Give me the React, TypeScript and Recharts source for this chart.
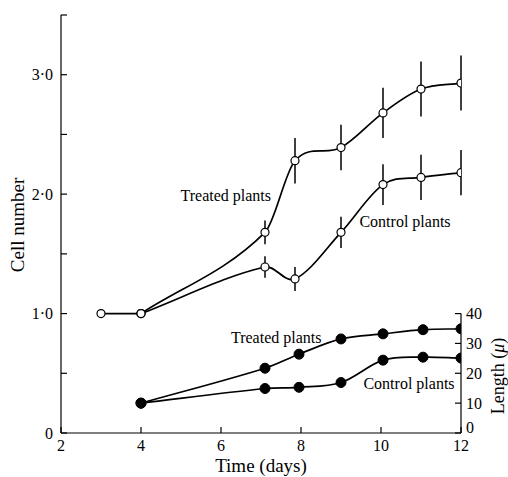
import { LineChart, Line, XAxis, YAxis, ErrorBar, ReferenceDot, ReferenceLine, Label } from "recharts";

// cell number before treatment (shared by both groups)
const startDays = [3, 4];
const startCells = [1.0, 1.0];

// cell number (open circles)
const cellDays = [4, 7.1, 7.85, 9, 10.05, 11, 12];
const treatedCells = [1.0, 1.68, 2.28, 2.39, 2.68, 2.88, 2.93];
const treatedCellErr = [0, 0.1, 0.19, 0.19, 0.21, 0.23, 0.23];
const controlCells = [1.0, 1.39, 1.29, 1.68, 2.08, 2.14, 2.18];
const controlCellErr = [0, 0.09, 0.1, 0.13, 0.17, 0.19, 0.19];

// length in microns (filled circles)
const lengthDays = [4, 7.1, 7.95, 9, 10.05, 11.05, 12];
const treatedLength = [10, 21.7, 26.4, 31.5, 33.2, 34.6, 34.9];
const controlLength = [10, 14.9, 15.3, 16.9, 24.4, 25.4, 25.1];

const xTicks = [2, 4, 6, 8, 10, 12];
const cellTicks = [0, 0.5, 1, 1.5, 2, 2.5, 3, 3.5];
const lengthTicks = [0, 10, 20, 30, 40];

const seriesLabels = [
  { text: "Treated plants", x: 6.12, y: 1.99 },
  { text: "Control plants", x: 10.6, y: 1.77 },
  { text: "Treated plants", x: 7.38, y: 0.8 },
  { text: "Control plants", x: 10.7, y: 0.415 },
];

const startData = startDays.map((d, i) => ({ day: d, v: startCells[i] }));
const treatedCellData = cellDays.map((d, i) => ({ day: d, v: treatedCells[i], err: treatedCellErr[i] }));
const controlCellData = cellDays.map((d, i) => ({ day: d, v: controlCells[i], err: controlCellErr[i] }));
const treatedLenData = lengthDays.map((d, i) => ({ day: d, len: treatedLength[i] }));
const controlLenData = lengthDays.map((d, i) => ({ day: d, len: controlLength[i] }));

const FONT = "'Liberation Serif', 'DejaVu Serif', serif";
const TICK = 6;
const LINE_W = 1.7;

// smooth curve through the points, tangents from neighbouring points (hand-drawn look)
function handCurve(context: any) {
  let xs: number[] = [];
  let ys: number[] = [];
  return {
    areaStart() {},
    areaEnd() {},
    lineStart() {
      xs = [];
      ys = [];
    },
    point(x: number, y: number) {
      xs.push(+x);
      ys.push(+y);
    },
    lineEnd() {
      const n = xs.length;
      if (!n) return;
      context.moveTo(xs[0], ys[0]);
      const m = xs.map((_, i) => {
        const a = Math.max(0, i - 1);
        const b = Math.min(n - 1, i + 1);
        return (ys[b] - ys[a]) / (xs[b] - xs[a]);
      });
      for (let i = 0; i < n - 1; i++) {
        const h = xs[i + 1] - xs[i];
        context.bezierCurveTo(
          xs[i] + h / 3, ys[i] + (m[i] * h) / 3,
          xs[i + 1] - h / 3, ys[i + 1] - (m[i + 1] * h) / 3,
          xs[i + 1], ys[i + 1]
        );
      }
    },
  };
}

const fmtCell = (v: number) => {
  if (v === 0) return "0";
  if (v % 1 !== 0) return "";
  return `${v}·0`;
};

// ticks drawn inward from the axis line
const XTick = ({ x, y, payload }: any) => {
  const m = 12;
  return (
    <g>
      <line x1={x} x2={x} y1={y - m} y2={y - m - TICK} stroke="#000" strokeWidth={1.2} />
      <text x={x} y={y} dy={6} textAnchor="middle" fontSize={16} fontFamily={FONT} fill="#000">
        {payload.value}
      </text>
    </g>
  );
};

const LeftTick = ({ x, y, payload }: any) => {
  const m = 8;
  return (
    <g>
      <line x1={x + m} x2={x + m + TICK} y1={y} y2={y} stroke="#000" strokeWidth={1.2} />
      <text x={x} y={y} dy="0.35em" textAnchor="end" fontSize={16} fontFamily={FONT} fill="#000">
        {fmtCell(payload.value)}
      </text>
    </g>
  );
};

const RightTick = ({ x, y, payload }: any) => {
  const m = 5;
  // the bottom label sits a little above the x axis line
  const lift = payload.value === 0 ? -6 : 0;
  return (
    <g>
      <line x1={x - m} x2={x - m - TICK} y1={y} y2={y} stroke="#000" strokeWidth={1.2} />
      <text x={x} y={y + lift} dy="0.35em" textAnchor="start" fontSize={16} fontFamily={FONT} fill="#000">
        {payload.value}
      </text>
    </g>
  );
};

const openDot = { r: 4, fill: "#fff", stroke: "#000", strokeWidth: 1.2 };
const fullDot = { r: 5, fill: "#000", stroke: "#000", strokeWidth: 1 };

export default function App() {
  return (
    <div style={{ fontFamily: FONT }}>
      <style>{"body{margin:0;overflow:hidden}"}</style>
      <LineChart width={508} height={477} margin={{ top: 15, right: 7, bottom: 4, left: 16 }}>
        <XAxis
          dataKey="day"
          type="number"
          domain={[2, 12]}
          ticks={xTicks}
          allowDataOverflow
          height={40}
          tickSize={0}
          tickMargin={12}
          tickLine={false}
          stroke="#000"
          strokeWidth={1.2}
          tick={<XTick />}
        >
          <Label
            content={({ viewBox }: any) => (
              <text x={viewBox.x + viewBox.width / 2} y={472} textAnchor="middle" fontSize={19} fontFamily={FONT} fill="#000">
                Time (days)
              </text>
            )}
          />
        </XAxis>
        <YAxis
          yAxisId="cell"
          domain={[0, 3.5]}
          ticks={cellTicks}
          allowDataOverflow
          width={45}
          tickSize={0}
          tickMargin={8}
          tickLine={false}
          stroke="#000"
          strokeWidth={1.2}
          tick={<LeftTick />}
        >
          <Label
            content={() => {
              const cx = 17;
              const cy = 225;
              return (
                <text x={cx} y={cy} transform={`rotate(-90, ${cx}, ${cy})`} textAnchor="middle" dominantBaseline="central" fontSize={19} fontFamily={FONT} fill="#000">
                  Cell number
                </text>
              );
            }}
          />
        </YAxis>
        <YAxis
          yAxisId="len"
          orientation="right"
          domain={[0, 140]}
          ticks={lengthTicks}
          allowDataOverflow
          width={40}
          axisLine={false}
          tickSize={0}
          tickMargin={5}
          tickLine={false}
          tick={<RightTick />}
        >
          <Label
            content={() => {
              const cx = 498;
              const cy = 376;
              return (
                <text x={cx} y={cy} transform={`rotate(-90, ${cx}, ${cy})`} textAnchor="middle" dominantBaseline="central" fontSize={18} fontFamily={FONT} fill="#000">
                  Length (<tspan fontStyle="italic">μ</tspan>)
                </text>
              );
            }}
          />
        </YAxis>

        <ReferenceLine
          yAxisId="len"
          segment={[{ x: 12, y: 0 }, { x: 12, y: 40 }]}
          stroke="#000"
          strokeWidth={1.2}
        />

        <Line data={startData} yAxisId="cell" dataKey="v" type="linear" stroke="#000" strokeWidth={LINE_W} dot={openDot} isAnimationActive={false} />
        <Line data={treatedCellData} yAxisId="cell" dataKey="v" type={handCurve as any} stroke="#000" strokeWidth={LINE_W} dot={openDot} isAnimationActive={false}>
          <ErrorBar dataKey="err" width={0} stroke="#000" strokeWidth={1.5} direction="y" />
        </Line>
        <Line data={controlCellData} yAxisId="cell" dataKey="v" type={handCurve as any} stroke="#000" strokeWidth={LINE_W} dot={openDot} isAnimationActive={false}>
          <ErrorBar dataKey="err" width={0} stroke="#000" strokeWidth={1.5} direction="y" />
        </Line>
        <Line data={treatedLenData} yAxisId="len" dataKey="len" type={handCurve as any} stroke="#000" strokeWidth={LINE_W} dot={fullDot} isAnimationActive={false} />
        <Line data={controlLenData} yAxisId="len" dataKey="len" type={handCurve as any} stroke="#000" strokeWidth={LINE_W} dot={fullDot} isAnimationActive={false} />

        {seriesLabels.map((l, i) => (
          <ReferenceDot
            key={i}
            yAxisId="cell"
            x={l.x}
            y={l.y}
            r={0}
            stroke="none"
            fill="none"
            label={{ value: l.text, position: "center", fill: "#000", fontSize: 16, fontFamily: FONT }}
          />
        ))}
      </LineChart>
    </div>
  );
}
